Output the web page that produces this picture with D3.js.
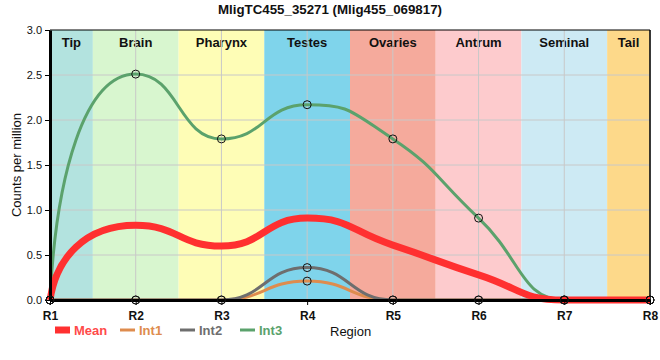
<!DOCTYPE html>
<html><head><meta charset="utf-8">
<script src="https://cdn.jsdelivr.net/npm/d3@7"></script>
<style>body{margin:0;background:#fff;font-family:"Liberation Sans",Arial,sans-serif;}</style>
</head><body>
<svg id="c" width="660" height="360"></svg>
<script>
const regions = ["R1","R2","R3","R4","R5","R6","R7","R8"];
const mean = [0, 0.83, 0.60, 0.91, 0.61, 0.28, 0.0, 0.0];
const int1 = [0, 0, 0, 0.21, 0, 0, 0, 0];
const int2 = [0, 0, 0, 0.36, 0, 0, 0, 0];
const int3 = [0, 2.51, 1.79, 2.17, 1.79, 0.91, 0, 0];
const yTicks = [0, 0.5, 1.0, 1.5, 2.0, 2.5, 3.0];
const bandNames = ["Tip","Brain","Pharynx","Testes","Ovaries","Antrum","Seminal","Tail"];
const bandColors = ["#b3e3df","#d8f6cf","#fefdb6","#7fd4eb","#f5aa9c","#fdcbcd","#cdeaf4","#fdd98a"];
const seriesNames = ["Mean","Int1","Int2","Int3"];
const seriesColors = ["#ff3030","#de8c4e","#6e6e6e","#5ba26c"];

// soft monotone curve: monotone tangents, long handles (flat plateaus at extrema)
function SoftCurve(context){ this._context = context; }
SoftCurve.prototype = {
  areaStart(){ this._line = 0; }, areaEnd(){ this._line = NaN; },
  lineStart(){ this._xs = []; this._ys = []; },
  point(x,y){ this._xs.push(+x); this._ys.push(+y); },
  lineEnd(){
    const X=this._xs, Y=this._ys, n=X.length, c=this._context, k=0.5;
    if(!n) return;
    const t = new Array(n).fill(0);
    for(let i=1;i<n-1;i++){
      const h0=X[i]-X[i-1], h1=X[i+1]-X[i];
      const s0=(Y[i]-Y[i-1])/h0, s1=(Y[i+1]-Y[i])/h1;
      const p=(s0*h1+s1*h0)/(h0+h1);
      t[i]=(Math.sign(s0)+Math.sign(s1))*Math.min(Math.abs(s0),Math.abs(s1),0.5*Math.abs(p))||0;
    }
    c.moveTo(X[0],Y[0]);
    for(let i=0;i<n-1;i++){
      const h=X[i+1]-X[i];
      if(i===0){
        c.bezierCurveTo(X[0]+0.07*h, Y[0]+0.55*(Y[1]-Y[0]), X[1]-0.6*h, Y[1]-t[1]*0.6*h, X[1], Y[1]);
      } else if(i===n-2){
        c.bezierCurveTo(X[i]+0.6*h, Y[i]+t[i]*0.6*h, X[i+1]-0.07*h, Y[i+1]-0.55*(Y[i+1]-Y[i]), X[i+1], Y[i+1]);
      } else {
        c.bezierCurveTo(X[i]+h*k, Y[i]+t[i]*h*k, X[i+1]-h*k, Y[i+1]-t[i+1]*h*k, X[i+1], Y[i+1]);
      }
    }
  }
};
const softCurve = ctx => new SoftCurve(ctx);

const svg = d3.select("#c");
const L=50, R=650, T=30, B=300;
const x = d3.scalePoint().domain(regions).range([L,R]);
const y = d3.scaleLinear().domain([0,3]).range([B,T]);
const step = x.step();

// bands
const g = svg.append("g");
bandNames.forEach((n,i)=>{
  const c = x(regions[i]);
  const x0 = Math.max(L, c - step/2), x1 = Math.min(R, c + step/2);
  g.append("rect").attr("x",x0).attr("y",T).attr("width",x1-x0).attr("height",B-T).attr("fill",bandColors[i]);
  g.append("text").attr("x",(x0+x1)/2).attr("y",47).attr("text-anchor","middle")
   .attr("font-size",13).attr("font-weight","bold").attr("fill","#111").text(n);
});
// grid
yTicks.forEach(t=>{ if(t>0&&t<3) svg.append("line").attr("x1",L).attr("x2",R).attr("y1",y(t)).attr("y2",y(t)).attr("stroke","#c8c8c8").attr("stroke-width",1);});
regions.forEach(r=>{ svg.append("line").attr("x1",x(r)).attr("x2",x(r)).attr("y1",T).attr("y2",B).attr("stroke","#c8c8c8").attr("stroke-width",1);});

// frame
svg.append("line").attr("x1",L).attr("x2",R).attr("y1",T).attr("y2",T).attr("stroke","#000").attr("stroke-width",1);
svg.append("line").attr("x1",R).attr("x2",R).attr("y1",T).attr("y2",B).attr("stroke","#000").attr("stroke-width",1.5);

// lines
const line = d3.line().x((d,i)=>x(regions[i])).y(d=>y(d)).curve(softCurve);
const allSeries = [mean,int1,int2,int3];
const widths = [7,3,3,3];
[1,2,3,0].forEach(k=>{
  svg.append("path").attr("d",line(allSeries[k])).attr("fill","none").attr("stroke",seriesColors[k]).attr("stroke-width",widths[k]);
});

// axes
const yAxis = svg.append("g").attr("transform",`translate(${L},0)`).call(d3.axisLeft(y).tickValues(yTicks).tickFormat(d3.format(".1f")).tickSize(5).tickSizeOuter(0));
yAxis.select(".domain").attr("stroke-width",3);
yAxis.selectAll("text").attr("font-size",11).attr("fill","#111").attr("font-family","Liberation Sans, Arial");
const xAxis = svg.append("g").attr("transform",`translate(0,${B})`).call(d3.axisBottom(x).tickSize(5).tickSizeOuter(0));
xAxis.select(".domain").attr("stroke-width",3);
xAxis.selectAll("text").attr("font-size",12).attr("font-weight","bold").attr("fill","#111").attr("dy","1.0em").attr("font-family","Liberation Sans, Arial");

// markers
[1,2,3].forEach(k=>{
  svg.append("g").selectAll("circle").data(allSeries[k]).join("circle")
    .attr("cx",(d,i)=>x(regions[i])).attr("cy",d=>y(d)).attr("r",4)
    .attr("fill","none").attr("stroke","#111").attr("stroke-width",1);
});

// title
svg.append("text").attr("x",330).attr("y",14).attr("text-anchor","middle").attr("font-size",13.3).attr("font-weight","bold").attr("fill","#111")
  .text("MligTC455_35271 (Mlig455_069817)");
// y label
svg.append("text").attr("transform","translate(21,165) rotate(-90)").attr("text-anchor","middle").attr("font-size",13).attr("fill","#111").text("Counts per million");

// legend
const lx = [55,120,180,240];
seriesNames.forEach((n,i)=>{
  svg.append("line").attr("x1",lx[i]).attr("x2",lx[i]+15).attr("y1",330).attr("y2",330)
    .attr("stroke",seriesColors[i]).attr("stroke-width",i===0?7:3);
  svg.append("text").attr("x",lx[i]+19).attr("y",335).attr("font-size",13).attr("font-weight","bold")
    .attr("fill",i===0?"#ff4a4a":seriesColors[i]).text(n);
});
svg.append("text").attr("x",330).attr("y",336).attr("font-size",13).attr("fill","#111").text("Region");
</script>
</body></html>
